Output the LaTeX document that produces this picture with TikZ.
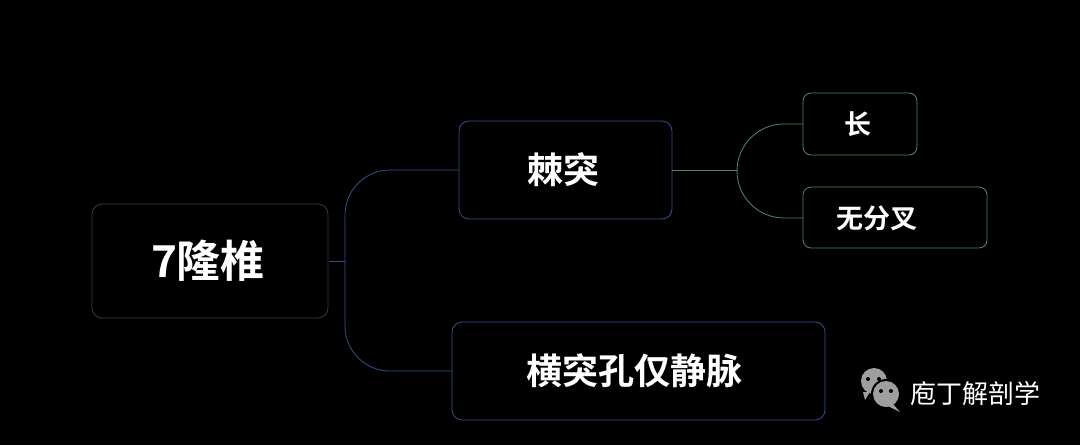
\documentclass[tikz,border=0pt]{standalone}
\usepackage{fontspec}
\setmainfont{Noto Sans CJK SC}[BoldFont={Noto Sans CJK SC Bold}]
\definecolor{bl}{HTML}{34508F}
\definecolor{gr}{HTML}{4C8A62}
\definecolor{rg}{HTML}{3A3A3A}
\begin{document}
\begin{tikzpicture}[x=1pt,y=-1pt,
  box/.style={draw,rounded corners=10pt,fill=black,line width=0.8pt},
  blink/.style={draw=bl,line width=0.8pt},
  glink/.style={draw=gr,line width=0.8pt}]
\fill[black] (0,0) rectangle (1080,445);
\useasboundingbox (0,0) rectangle (1080,445);
\path[box,draw=rg] (92,204) rectangle (328,318);
\node[text=white,font=\bfseries\fontsize{44}{48}\selectfont] (root) at (208,261) {7隆椎};
\path[box,draw=bl] (459,121) rectangle (672,219);
\node[text=white,font=\bfseries\fontsize{36}{40}\selectfont] (spine) at (563,170) {棘突};
\path[box,draw=bl] (452,322) rectangle (825,420);
\node[text=white,font=\bfseries\fontsize{36}{40}\selectfont] (tp) at (634,371) {横突孔仅静脉};
\path[box,draw=gr,rounded corners=8pt] (803,93) rectangle (917,155);
\node[text=white,font=\bfseries\fontsize{27}{30}\selectfont] (l1) at (858,124) {长};
\path[box,draw=gr,rounded corners=8pt] (803,187) rectangle (987,248);
\node[text=white,font=\bfseries\fontsize{27}{30}\selectfont] (l2) at (877,218) {无分叉};
\coordinate (rr) at (329,261);
\coordinate (sl) at (459,170);
\coordinate (tl) at (452,371);
\draw[blink] (rr) -- (345,261);
\draw[blink,rounded corners=45pt] (345,261) |- (sl);
\draw[blink,rounded corners=45pt] (345,261) |- (tl);
\coordinate (sr) at (672,170);
\draw[glink] (sr) -- (737,170);
\draw[glink,rounded corners=47pt] (737,170) |- (803,124);
\draw[glink,rounded corners=47pt] (737,170) |- (803,218);
% watermark
\fill[gray!75] (874,381) circle (13);
\fill[gray!75] (863,392) -- (865,400) -- (870,392) -- cycle;
\fill[black] (886,394) circle (15);
\fill[gray!75] (886,394) circle (13);
\fill[gray!75] (893,404) -- (900,412) -- (888,406) -- cycle;
\fill[black] (868,379) circle (2) (879,379) circle (2) (881,391) circle (2) (891,391) circle (2);
\node[text=white,font=\fontsize{26}{30}\selectfont,anchor=west] (wm) at (907,394) {庖丁解剖学};
\end{tikzpicture}
\end{document}
